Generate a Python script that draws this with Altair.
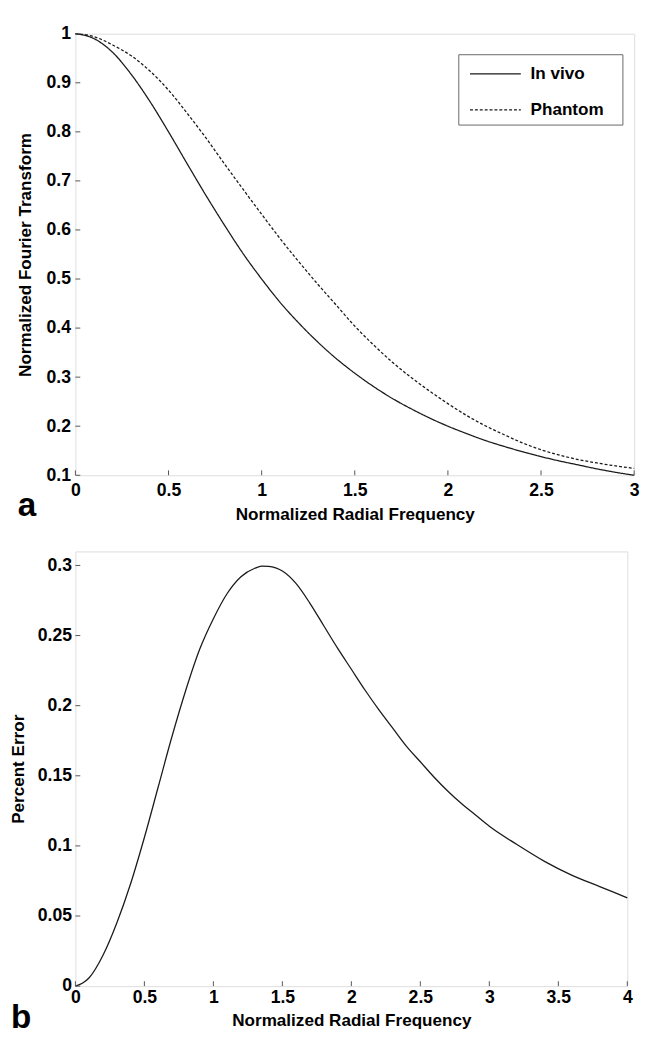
import altair as alt
import pandas as pd

FONT = "Liberation Sans"
INK = "#1a1a1a"

# ---- panel a data ----
freq_a = [0.0, 0.1, 0.2, 0.3, 0.4, 0.5, 0.6, 0.7, 0.8, 0.9, 1.0,
          1.1, 1.2, 1.3, 1.4, 1.5, 1.6, 1.7, 1.8, 1.9, 2.0,
          2.1, 2.2, 2.3, 2.4, 2.5, 2.6, 2.7, 2.8, 2.9, 3.0]
in_vivo = [1.000, 0.990, 0.962, 0.917, 0.862, 0.800, 0.735, 0.671, 0.610, 0.552, 0.500,
           0.452, 0.410, 0.372, 0.338, 0.308, 0.281, 0.257, 0.236, 0.217, 0.200,
           0.185, 0.171, 0.159, 0.148, 0.138, 0.129, 0.121, 0.113, 0.106, 0.100]
phantom = [1.000, 0.994, 0.977, 0.955, 0.924, 0.885, 0.838, 0.788, 0.735, 0.683, 0.632,
           0.582, 0.535, 0.490, 0.447, 0.404, 0.366, 0.331, 0.300, 0.272, 0.246,
           0.222, 0.201, 0.183, 0.166, 0.152, 0.141, 0.132, 0.125, 0.119, 0.114]
series_names = ["In vivo", "Phantom"]
xticks_a = [0, 0.5, 1, 1.5, 2, 2.5, 3]
yticks_a = [0.1, 0.2, 0.3, 0.4, 0.5, 0.6, 0.7, 0.8, 0.9, 1]

# ---- panel b data ----
freq_b = [0.0, 0.05, 0.1, 0.2, 0.3, 0.4, 0.5, 0.6, 0.7, 0.8, 0.9, 1.0,
          1.1, 1.2, 1.3, 1.35, 1.4, 1.5, 1.6, 1.7, 1.8, 1.9, 2.0,
          2.1, 2.2, 2.3, 2.4, 2.5, 2.6, 2.7, 2.8, 2.9, 3.0,
          3.2, 3.4, 3.6, 3.8, 4.0]
pct_err = [0.0, 0.002, 0.006, 0.022, 0.045, 0.073, 0.106, 0.142, 0.178, 0.211, 0.240, 0.262,
           0.280, 0.292, 0.298, 0.2995, 0.2993, 0.296, 0.287, 0.273, 0.257, 0.241, 0.226,
           0.211, 0.197, 0.184, 0.171, 0.160, 0.149, 0.139, 0.130, 0.122, 0.114,
           0.101, 0.089, 0.079, 0.071, 0.063]
xticks_b = [0, 0.5, 1, 1.5, 2, 2.5, 3, 3.5, 4]
yticks_b = [0, 0.05, 0.1, 0.15, 0.2, 0.25, 0.3]

panel_letters = ["a", "b"]

W1, H1 = 572, 452
W2, H2 = 565, 445

df_a = pd.DataFrame({
    "freq": freq_a + freq_a,
    "value": in_vivo + phantom,
    "series": [series_names[0]] * len(freq_a) + [series_names[1]] * len(freq_a),
})
df_b = pd.DataFrame({"freq": freq_b, "value": pct_err})

lab = dict(labelFont=FONT, labelFontSize=18, labelFontWeight="bold", labelColor="#000",
           titleFont=FONT, titleFontSize=17.5, titleFontWeight="bold", titleColor="#000",
           ticks=False, domain=False, grid=False, labelFlush=False, labelOverlap=False)

# ---- panel a ----
xa = alt.X("freq:Q", scale=alt.Scale(domain=[0, 3], nice=False),
           axis=alt.Axis(values=xticks_a, format="~g", title="Normalized Radial Frequency",
                         labelPadding=7, titleY=40, titleBaseline="middle", **lab))
ya = alt.Y("value:Q", scale=alt.Scale(domain=[0.1, 1], nice=False, zero=False),
           axis=alt.Axis(values=yticks_a, format="~g", title="Normalized Fourier Transform",
                         labelPadding=5, titleX=-51, titleY=H1 / 2, titleBaseline="middle",
                         titleAngle=-90, **lab))
line_a = alt.Chart(df_a).mark_line(color=INK, strokeWidth=1.3, interpolate="monotone").encode(
    x=xa, y=ya,
    strokeDash=alt.StrokeDash("series:N",
                              scale=alt.Scale(domain=series_names, range=[[1, 0], [3, 2]]),
                              legend=alt.Legend(title=None, orient="none", legendX=392, legendY=21,
                                                strokeColor="#666", fillColor="white", padding=6,
                                                symbolType="M-2,0H2", symbolSize=676,
                                                symbolOffset=18,
                                                symbolStrokeWidth=1.3, symbolStrokeColor=INK,
                                                labelFont=FONT, labelFontSize=17.5, labelFontWeight="bold",
                                                labelColor="#000", labelOffset=22, rowPadding=14,
                                                labelExpr="datum.label + '\u2800'")),
)
ytk_a = alt.Chart(pd.DataFrame({"value": yticks_a})).mark_rule(color="#555", strokeWidth=1).encode(
    y="value:Q", x=alt.value(0), x2=alt.value(5))
xtk_a = alt.Chart(pd.DataFrame({"freq": xticks_a})).mark_rule(color="#555", strokeWidth=1).encode(
    x="freq:Q", y=alt.value(H1), y2=alt.value(H1 - 5))
let_a = alt.Chart(pd.DataFrame({"p": [panel_letters[0]]})).mark_text(
    align="left", baseline="alphabetic", font=FONT, fontSize=34, fontWeight="bold", color="#000"
).encode(text="p:N", x=alt.value(-59), y=alt.value(H1 + 42))

top = alt.layer(line_a, ytk_a, xtk_a, let_a).properties(width=W1, height=H1)

# ---- panel b ----
xb = alt.X("freq:Q", scale=alt.Scale(domain=[0, 4], nice=False),
           axis=alt.Axis(values=xticks_b, format="~g", title="Normalized Radial Frequency",
                         labelPadding=3, titleY=35, titleBaseline="middle", **lab))
yb = alt.Y("value:Q", scale=alt.Scale(domain=[0, 0.31], nice=False),
           axis=alt.Axis(values=yticks_b, format="~g", title="Percent Error",
                         labelPadding=4, titleX=-58, titleY=H2 / 2, titleBaseline="middle",
                         titleAngle=-90, **lab))
line_b = alt.Chart(df_b).mark_line(color=INK, strokeWidth=1.3, interpolate="monotone").encode(
    x=xb, y=yb)
ytk_b = alt.Chart(pd.DataFrame({"value": yticks_b})).mark_rule(color="#555", strokeWidth=1).encode(
    y="value:Q", x=alt.value(0), x2=alt.value(5))
xtk_b = alt.Chart(pd.DataFrame({"freq": xticks_b})).mark_rule(color="#555", strokeWidth=1).encode(
    x="freq:Q", y=alt.value(H2), y2=alt.value(H2 - 5))
let_b = alt.Chart(pd.DataFrame({"p": [panel_letters[1]]})).mark_text(
    align="left", baseline="alphabetic", font=FONT, fontSize=34, fontWeight="bold", color="#000"
).encode(text="p:N", x=alt.value(-66), y=alt.value(H2 + 43))

bottom = alt.layer(line_b, ytk_b, xtk_b, let_b).properties(width=W2, height=H2)

chart = alt.vconcat(top, bottom, spacing=27).properties(
    padding={"left": 1, "top": 4, "right": 0, "bottom": 0}
).configure_view(stroke="#666", strokeWidth=1.5).configure(background="white")

chart.save("out.html", embed_options={"renderer": "svg", "actions": False})
